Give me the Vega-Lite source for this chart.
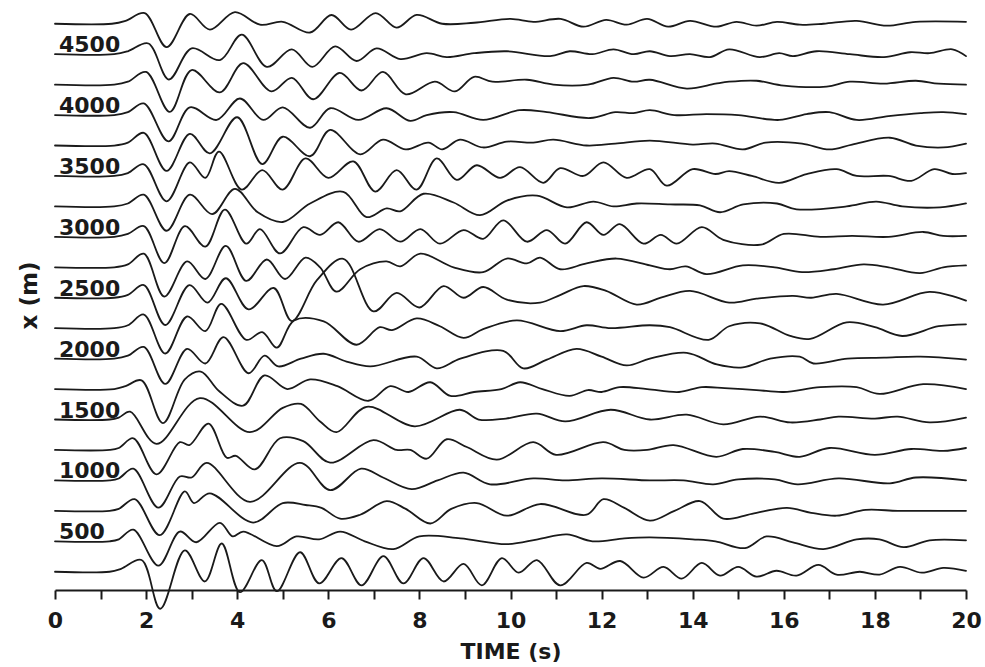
{
  "$schema": "https://vega.github.io/schema/vega-lite/v6.json",
  "width": 911,
  "height": 590,
  "autosize": {"type": "none"},
  "padding": {"left": 55, "top": 0, "right": 19, "bottom": 77},
  "background": "white",
  "config": {
    "view": {"stroke": null},
    "axis": {"grid": false}
  },
  "datasets": {
    "traces": [
      {"d":4750,"t":0,"y":4750},{"d":4750,"t":1.25,"y":4750},{"d":4750,"t":1.55,"y":4774},{"d":4750,"t":1.97,"y":4838},{"d":4750,"t":2.45,"y":4558},{"d":4750,"t":2.96,"y":4830},{"d":4750,"t":3.4,"y":4702},{"d":4750,"t":3.95,"y":4846},{"d":4750,"t":4.5,"y":4742},{"d":4750,"t":5.0,"y":4766},{"d":4750,"t":5.6,"y":4678},{"d":4750,"t":6.07,"y":4822},{"d":4750,"t":6.5,"y":4702},{"d":4750,"t":7.04,"y":4838},{"d":4750,"t":7.5,"y":4718},{"d":4750,"t":7.94,"y":4822},{"d":4750,"t":8.5,"y":4750},{"d":4750,"t":9.2,"y":4758},{"d":4750,"t":10.0,"y":4790},{"d":4750,"t":10.5,"y":4766},{"d":4750,"t":11.1,"y":4790},{"d":4750,"t":11.6,"y":4726},{"d":4750,"t":12.1,"y":4782},{"d":4750,"t":12.55,"y":4742},{"d":4750,"t":13.0,"y":4790},{"d":4750,"t":13.46,"y":4726},{"d":4750,"t":13.94,"y":4774},{"d":4750,"t":14.52,"y":4726},{"d":4750,"t":14.96,"y":4766},{"d":4750,"t":15.4,"y":4734},{"d":4750,"t":15.85,"y":4766},{"d":4750,"t":16.35,"y":4742},{"d":4750,"t":16.87,"y":4750},{"d":4750,"t":17.6,"y":4774},{"d":4750,"t":18.26,"y":4734},{"d":4750,"t":18.9,"y":4766},{"d":4750,"t":20,"y":4766},

      {"d":4500,"t":0,"y":4500},{"d":4500,"t":1.3,"y":4500},{"d":4500,"t":1.6,"y":4524},{"d":4500,"t":2.05,"y":4588},{"d":4500,"t":2.5,"y":4292},{"d":4500,"t":3.0,"y":4548},{"d":4500,"t":3.62,"y":4452},{"d":4500,"t":4.1,"y":4660},{"d":4500,"t":4.65,"y":4396},{"d":4500,"t":5.2,"y":4540},{"d":4500,"t":5.65,"y":4396},{"d":4500,"t":6.15,"y":4564},{"d":4500,"t":6.62,"y":4444},{"d":4500,"t":7.06,"y":4548},{"d":4500,"t":7.58,"y":4460},{"d":4500,"t":8.16,"y":4508},{"d":4500,"t":8.6,"y":4476},{"d":4500,"t":9.2,"y":4508},{"d":4500,"t":9.92,"y":4524},{"d":4500,"t":10.87,"y":4484},{"d":4500,"t":11.3,"y":4524},{"d":4500,"t":11.8,"y":4500},{"d":4500,"t":12.26,"y":4540},{"d":4500,"t":12.7,"y":4500},{"d":4500,"t":13.06,"y":4524},{"d":4500,"t":13.5,"y":4484},{"d":4500,"t":13.94,"y":4500},{"d":4500,"t":14.38,"y":4476},{"d":4500,"t":14.8,"y":4540},{"d":4500,"t":15.47,"y":4476},{"d":4500,"t":15.9,"y":4508},{"d":4500,"t":16.2,"y":4484},{"d":4500,"t":16.72,"y":4524},{"d":4500,"t":17.45,"y":4500},{"d":4500,"t":18.2,"y":4476},{"d":4500,"t":18.77,"y":4516},{"d":4500,"t":19.2,"y":4508},{"d":4500,"t":19.7,"y":4540},{"d":4500,"t":20,"y":4484},

      {"d":4250,"t":0,"y":4250},{"d":4250,"t":1.3,"y":4250},{"d":4250,"t":1.6,"y":4274},{"d":4250,"t":2.0,"y":4354},{"d":4250,"t":2.52,"y":4026},{"d":4250,"t":3.0,"y":4370},{"d":4250,"t":3.62,"y":4186},{"d":4250,"t":4.13,"y":4426},{"d":4250,"t":4.75,"y":4194},{"d":4250,"t":5.2,"y":4306},{"d":4250,"t":5.67,"y":4130},{"d":4250,"t":6.25,"y":4346},{"d":4250,"t":6.73,"y":4202},{"d":4250,"t":7.2,"y":4354},{"d":4250,"t":7.7,"y":4170},{"d":4250,"t":8.34,"y":4274},{"d":4250,"t":8.78,"y":4194},{"d":4250,"t":9.2,"y":4314},{"d":4250,"t":9.6,"y":4274},{"d":4250,"t":10.36,"y":4290},{"d":4250,"t":10.94,"y":4250},{"d":4250,"t":11.7,"y":4250},{"d":4250,"t":12.26,"y":4306},{"d":4250,"t":12.7,"y":4274},{"d":4250,"t":13.06,"y":4290},{"d":4250,"t":13.87,"y":4218},{"d":4250,"t":14.5,"y":4258},{"d":4250,"t":14.8,"y":4274},{"d":4250,"t":15.4,"y":4282},{"d":4250,"t":16.0,"y":4242},{"d":4250,"t":16.94,"y":4234},{"d":4250,"t":17.45,"y":4274},{"d":4250,"t":18.2,"y":4258},{"d":4250,"t":18.9,"y":4282},{"d":4250,"t":19.4,"y":4258},{"d":4250,"t":20,"y":4250},

      {"d":4000,"t":0,"y":4000},{"d":4000,"t":1.3,"y":4000},{"d":4000,"t":1.6,"y":4024},{"d":4000,"t":1.95,"y":4096},{"d":4000,"t":2.49,"y":3784},{"d":4000,"t":2.96,"y":4064},{"d":4000,"t":3.55,"y":3960},{"d":4000,"t":4.06,"y":4136},{"d":4000,"t":4.57,"y":3960},{"d":4000,"t":5.0,"y":4064},{"d":4000,"t":5.6,"y":3896},{"d":4000,"t":6.04,"y":4056},{"d":4000,"t":6.66,"y":3960},{"d":4000,"t":7.28,"y":4056},{"d":4000,"t":7.8,"y":3952},{"d":4000,"t":8.16,"y":4000},{"d":4000,"t":8.75,"y":4024},{"d":4000,"t":9.4,"y":3960},{"d":4000,"t":10.2,"y":4040},{"d":4000,"t":10.8,"y":4024},{"d":4000,"t":11.75,"y":3976},{"d":4000,"t":12.3,"y":4024},{"d":4000,"t":12.7,"y":4016},{"d":4000,"t":13.06,"y":4040},{"d":4000,"t":13.6,"y":4000},{"d":4000,"t":14.3,"y":4008},{"d":4000,"t":15.0,"y":4000},{"d":4000,"t":15.9,"y":3960},{"d":4000,"t":16.5,"y":4008},{"d":4000,"t":17.0,"y":4024},{"d":4000,"t":17.6,"y":3960},{"d":4000,"t":18.3,"y":3992},{"d":4000,"t":19.0,"y":4016},{"d":4000,"t":19.5,"y":4024},{"d":4000,"t":20,"y":4008},

      {"d":3750,"t":0,"y":3750},{"d":3750,"t":1.3,"y":3750},{"d":3750,"t":1.6,"y":3774},{"d":3750,"t":1.95,"y":3854},{"d":3750,"t":2.45,"y":3542},{"d":3750,"t":2.96,"y":3846},{"d":3750,"t":3.4,"y":3686},{"d":3750,"t":4.0,"y":3982},{"d":3750,"t":4.55,"y":3598},{"d":3750,"t":5.0,"y":3822},{"d":3750,"t":5.6,"y":3662},{"d":3750,"t":6.04,"y":3878},{"d":3750,"t":6.7,"y":3678},{"d":3750,"t":7.2,"y":3798},{"d":3750,"t":7.7,"y":3718},{"d":3750,"t":8.2,"y":3774},{"d":3750,"t":8.5,"y":3718},{"d":3750,"t":8.89,"y":3798},{"d":3750,"t":9.4,"y":3734},{"d":3750,"t":9.92,"y":3782},{"d":3750,"t":10.5,"y":3774},{"d":3750,"t":10.94,"y":3798},{"d":3750,"t":11.67,"y":3750},{"d":3750,"t":12.3,"y":3766},{"d":3750,"t":13.06,"y":3790},{"d":3750,"t":14.0,"y":3758},{"d":3750,"t":14.5,"y":3766},{"d":3750,"t":15.1,"y":3718},{"d":3750,"t":15.6,"y":3774},{"d":3750,"t":16.4,"y":3766},{"d":3750,"t":17.0,"y":3718},{"d":3750,"t":17.5,"y":3758},{"d":3750,"t":18.33,"y":3814},{"d":3750,"t":18.9,"y":3750},{"d":3750,"t":19.5,"y":3734},{"d":3750,"t":20,"y":3766},

      {"d":3500,"t":0,"y":3500},{"d":3500,"t":1.3,"y":3500},{"d":3500,"t":1.6,"y":3524},{"d":3500,"t":1.95,"y":3596},{"d":3500,"t":2.45,"y":3292},{"d":3500,"t":2.96,"y":3612},{"d":3500,"t":3.3,"y":3484},{"d":3500,"t":3.6,"y":3700},{"d":3500,"t":4.1,"y":3388},{"d":3500,"t":4.55,"y":3548},{"d":3500,"t":5.0,"y":3388},{"d":3500,"t":5.5,"y":3644},{"d":3500,"t":6.0,"y":3484},{"d":3500,"t":6.55,"y":3620},{"d":3500,"t":7.03,"y":3372},{"d":3500,"t":7.5,"y":3548},{"d":3500,"t":7.94,"y":3388},{"d":3500,"t":8.38,"y":3644},{"d":3500,"t":8.82,"y":3468},{"d":3500,"t":9.26,"y":3588},{"d":3500,"t":9.77,"y":3484},{"d":3500,"t":10.21,"y":3572},{"d":3500,"t":10.72,"y":3444},{"d":3500,"t":11.09,"y":3564},{"d":3500,"t":11.6,"y":3500},{"d":3500,"t":12.04,"y":3612},{"d":3500,"t":12.55,"y":3484},{"d":3500,"t":13.06,"y":3556},{"d":3500,"t":13.43,"y":3420},{"d":3500,"t":14.0,"y":3556},{"d":3500,"t":14.5,"y":3516},{"d":3500,"t":14.8,"y":3540},{"d":3500,"t":15.3,"y":3500},{"d":3500,"t":15.9,"y":3444},{"d":3500,"t":16.5,"y":3516},{"d":3500,"t":17.16,"y":3556},{"d":3500,"t":17.6,"y":3500},{"d":3500,"t":18.3,"y":3500},{"d":3500,"t":18.8,"y":3460},{"d":3500,"t":19.3,"y":3556},{"d":3500,"t":19.7,"y":3516},{"d":3500,"t":20,"y":3524},

      {"d":3250,"t":0,"y":3250},{"d":3250,"t":1.3,"y":3250},{"d":3250,"t":1.6,"y":3274},{"d":3250,"t":1.95,"y":3346},{"d":3250,"t":2.45,"y":3050},{"d":3250,"t":2.96,"y":3346},{"d":3250,"t":3.45,"y":3186},{"d":3250,"t":3.95,"y":3394},{"d":3250,"t":4.45,"y":3202},{"d":3250,"t":5.0,"y":3122},{"d":3250,"t":5.6,"y":3274},{"d":3250,"t":6.33,"y":3370},{"d":3250,"t":6.84,"y":3162},{"d":3250,"t":7.28,"y":3234},{"d":3250,"t":7.58,"y":3210},{"d":3250,"t":8.09,"y":3354},{"d":3250,"t":8.75,"y":3282},{"d":3250,"t":9.33,"y":3178},{"d":3250,"t":9.92,"y":3298},{"d":3250,"t":10.58,"y":3338},{"d":3250,"t":11.24,"y":3242},{"d":3250,"t":11.82,"y":3290},{"d":3250,"t":12.26,"y":3250},{"d":3250,"t":12.77,"y":3274},{"d":3250,"t":13.5,"y":3266},{"d":3250,"t":14.16,"y":3258},{"d":3250,"t":14.6,"y":3202},{"d":3250,"t":15.11,"y":3266},{"d":3250,"t":15.85,"y":3274},{"d":3250,"t":16.28,"y":3226},{"d":3250,"t":17.38,"y":3250},{"d":3250,"t":18.03,"y":3290},{"d":3250,"t":18.6,"y":3250},{"d":3250,"t":19.43,"y":3242},{"d":3250,"t":20,"y":3274},

      {"d":3000,"t":0,"y":3000},{"d":3000,"t":1.3,"y":3000},{"d":3000,"t":1.6,"y":3024},{"d":3000,"t":1.95,"y":3088},{"d":3000,"t":2.4,"y":2784},{"d":3000,"t":2.85,"y":3088},{"d":3000,"t":3.3,"y":2920},{"d":3000,"t":3.73,"y":3224},{"d":3000,"t":4.2,"y":2944},{"d":3000,"t":4.5,"y":3064},{"d":3000,"t":4.94,"y":2864},{"d":3000,"t":5.45,"y":3080},{"d":3000,"t":5.82,"y":3016},{"d":3000,"t":6.22,"y":3120},{"d":3000,"t":6.66,"y":2960},{"d":3000,"t":7.13,"y":3064},{"d":3000,"t":7.58,"y":2960},{"d":3000,"t":8.02,"y":3064},{"d":3000,"t":8.45,"y":2944},{"d":3000,"t":8.97,"y":3056},{"d":3000,"t":9.4,"y":2984},{"d":3000,"t":9.84,"y":3136},{"d":3000,"t":10.36,"y":2960},{"d":3000,"t":10.8,"y":3056},{"d":3000,"t":11.2,"y":2944},{"d":3000,"t":11.67,"y":3120},{"d":3000,"t":12.04,"y":3016},{"d":3000,"t":12.4,"y":3104},{"d":3000,"t":12.92,"y":2944},{"d":3000,"t":13.3,"y":3016},{"d":3000,"t":13.65,"y":2944},{"d":3000,"t":14.2,"y":3080},{"d":3000,"t":14.67,"y":2976},{"d":3000,"t":15.5,"y":2936},{"d":3000,"t":16.0,"y":3024},{"d":3000,"t":16.8,"y":3000},{"d":3000,"t":17.5,"y":3008},{"d":3000,"t":18.3,"y":3000},{"d":3000,"t":19.06,"y":3040},{"d":3000,"t":19.5,"y":3008},{"d":3000,"t":20,"y":3008},

      {"d":2750,"t":0,"y":2750},{"d":2750,"t":1.3,"y":2750},{"d":2750,"t":1.6,"y":2774},{"d":2750,"t":1.95,"y":2862},{"d":2750,"t":2.4,"y":2510},{"d":2750,"t":2.9,"y":2798},{"d":2750,"t":3.3,"y":2654},{"d":2750,"t":3.75,"y":2926},{"d":2750,"t":4.2,"y":2638},{"d":2750,"t":4.65,"y":2814},{"d":2750,"t":5.05,"y":2654},{"d":2750,"t":5.5,"y":2830},{"d":2750,"t":5.82,"y":2750},{"d":2750,"t":6.18,"y":2550},{"d":2750,"t":6.7,"y":2734},{"d":2750,"t":7.28,"y":2798},{"d":2750,"t":7.58,"y":2758},{"d":2750,"t":8.02,"y":2862},{"d":2750,"t":8.75,"y":2750},{"d":2750,"t":9.4,"y":2710},{"d":2750,"t":9.92,"y":2822},{"d":2750,"t":10.36,"y":2782},{"d":2750,"t":10.65,"y":2830},{"d":2750,"t":11.09,"y":2734},{"d":2750,"t":11.67,"y":2782},{"d":2750,"t":12.33,"y":2822},{"d":2750,"t":13.06,"y":2766},{"d":2750,"t":13.5,"y":2734},{"d":2750,"t":13.85,"y":2758},{"d":2750,"t":14.3,"y":2694},{"d":2750,"t":15.1,"y":2766},{"d":2750,"t":15.8,"y":2750},{"d":2750,"t":16.4,"y":2710},{"d":2750,"t":17.1,"y":2734},{"d":2750,"t":17.75,"y":2774},{"d":2750,"t":18.3,"y":2750},{"d":2750,"t":18.99,"y":2702},{"d":2750,"t":19.5,"y":2750},{"d":2750,"t":20,"y":2766},

      {"d":2500,"t":0,"y":2500},{"d":2500,"t":1.3,"y":2500},{"d":2500,"t":1.6,"y":2524},{"d":2500,"t":1.95,"y":2604},{"d":2500,"t":2.42,"y":2276},{"d":2500,"t":2.95,"y":2604},{"d":2500,"t":3.35,"y":2460},{"d":2500,"t":3.75,"y":2660},{"d":2500,"t":4.25,"y":2404},{"d":2500,"t":4.8,"y":2580},{"d":2500,"t":5.2,"y":2308},{"d":2500,"t":5.75,"y":2644},{"d":2500,"t":6.33,"y":2820},{"d":2500,"t":6.99,"y":2388},{"d":2500,"t":7.5,"y":2540},{"d":2500,"t":8.0,"y":2420},{"d":2500,"t":8.53,"y":2596},{"d":2500,"t":8.97,"y":2500},{"d":2500,"t":9.4,"y":2588},{"d":2500,"t":9.92,"y":2484},{"d":2500,"t":10.65,"y":2460},{"d":2500,"t":11.1,"y":2524},{"d":2500,"t":11.6,"y":2596},{"d":2500,"t":12.1,"y":2556},{"d":2500,"t":12.77,"y":2444},{"d":2500,"t":13.3,"y":2500},{"d":2500,"t":13.94,"y":2556},{"d":2500,"t":14.8,"y":2460},{"d":2500,"t":15.4,"y":2492},{"d":2500,"t":16.2,"y":2516},{"d":2500,"t":16.6,"y":2500},{"d":2500,"t":17.16,"y":2532},{"d":2500,"t":18.18,"y":2444},{"d":2500,"t":19.2,"y":2548},{"d":2500,"t":20,"y":2476},

      {"d":2250,"t":0,"y":2250},{"d":2250,"t":1.3,"y":2250},{"d":2250,"t":1.6,"y":2274},{"d":2250,"t":1.95,"y":2362},{"d":2250,"t":2.42,"y":2042},{"d":2250,"t":2.9,"y":2346},{"d":2250,"t":3.3,"y":2226},{"d":2250,"t":3.65,"y":2450},{"d":2250,"t":4.2,"y":2154},{"d":2250,"t":4.55,"y":2218},{"d":2250,"t":4.87,"y":2090},{"d":2250,"t":5.25,"y":2314},{"d":2250,"t":5.9,"y":2306},{"d":2250,"t":6.62,"y":2114},{"d":2250,"t":7.13,"y":2258},{"d":2250,"t":7.4,"y":2234},{"d":2250,"t":7.94,"y":2330},{"d":2250,"t":8.45,"y":2266},{"d":2250,"t":8.97,"y":2170},{"d":2250,"t":9.4,"y":2242},{"d":2250,"t":10.14,"y":2314},{"d":2250,"t":11.09,"y":2226},{"d":2250,"t":11.67,"y":2274},{"d":2250,"t":12.2,"y":2250},{"d":2250,"t":13.06,"y":2274},{"d":2250,"t":13.5,"y":2258},{"d":2250,"t":14.35,"y":2154},{"d":2250,"t":14.8,"y":2266},{"d":2250,"t":15.48,"y":2290},{"d":2250,"t":16.14,"y":2186},{"d":2250,"t":16.58,"y":2162},{"d":2250,"t":17.38,"y":2298},{"d":2250,"t":18.0,"y":2258},{"d":2250,"t":18.6,"y":2186},{"d":2250,"t":19.4,"y":2266},{"d":2250,"t":20,"y":2282},

      {"d":2000,"t":0,"y":2000},{"d":2000,"t":1.3,"y":2000},{"d":2000,"t":1.6,"y":2024},{"d":2000,"t":1.95,"y":2096},{"d":2000,"t":2.42,"y":1792},{"d":2000,"t":2.9,"y":2080},{"d":2000,"t":3.3,"y":1960},{"d":2000,"t":3.7,"y":2176},{"d":2000,"t":4.25,"y":1880},{"d":2000,"t":4.6,"y":2024},{"d":2000,"t":4.9,"y":1936},{"d":2000,"t":5.4,"y":2000},{"d":2000,"t":5.9,"y":2040},{"d":2000,"t":6.4,"y":1976},{"d":2000,"t":6.92,"y":1936},{"d":2000,"t":7.94,"y":2016},{"d":2000,"t":8.38,"y":1920},{"d":2000,"t":8.9,"y":2000},{"d":2000,"t":9.84,"y":2064},{"d":2000,"t":10.28,"y":1920},{"d":2000,"t":10.8,"y":1992},{"d":2000,"t":11.45,"y":2080},{"d":2000,"t":12.0,"y":2016},{"d":2000,"t":12.55,"y":1944},{"d":2000,"t":13.06,"y":2000},{"d":2000,"t":13.87,"y":2048},{"d":2000,"t":14.53,"y":1952},{"d":2000,"t":15.1,"y":1928},{"d":2000,"t":15.7,"y":2000},{"d":2000,"t":16.35,"y":2016},{"d":2000,"t":16.65,"y":1960},{"d":2000,"t":17.4,"y":2000},{"d":2000,"t":18.2,"y":2008},{"d":2000,"t":19.0,"y":2016},{"d":2000,"t":20,"y":1992},

      {"d":1750,"t":0,"y":1750},{"d":1750,"t":1.3,"y":1750},{"d":1750,"t":1.55,"y":1774},{"d":1750,"t":1.9,"y":1822},{"d":1750,"t":2.37,"y":1470},{"d":1750,"t":2.85,"y":1830},{"d":1750,"t":3.2,"y":1894},{"d":1750,"t":3.6,"y":1734},{"d":1750,"t":4.13,"y":1614},{"d":1750,"t":4.6,"y":1862},{"d":1750,"t":5.1,"y":1750},{"d":1750,"t":5.6,"y":1830},{"d":1750,"t":6.2,"y":1774},{"d":1750,"t":6.88,"y":1654},{"d":1750,"t":7.36,"y":1774},{"d":1750,"t":7.76,"y":1726},{"d":1750,"t":8.24,"y":1806},{"d":1750,"t":8.68,"y":1694},{"d":1750,"t":9.2,"y":1726},{"d":1750,"t":9.8,"y":1750},{"d":1750,"t":10.21,"y":1806},{"d":1750,"t":10.7,"y":1750},{"d":1750,"t":11.3,"y":1694},{"d":1750,"t":11.7,"y":1742},{"d":1750,"t":12.0,"y":1726},{"d":1750,"t":12.4,"y":1766},{"d":1750,"t":13.0,"y":1750},{"d":1750,"t":13.7,"y":1726},{"d":1750,"t":14.2,"y":1766},{"d":1750,"t":14.7,"y":1758},{"d":1750,"t":15.4,"y":1742},{"d":1750,"t":16.0,"y":1726},{"d":1750,"t":16.8,"y":1766},{"d":1750,"t":17.6,"y":1766},{"d":1750,"t":18.1,"y":1710},{"d":1750,"t":19.06,"y":1790},{"d":1750,"t":20,"y":1750},

      {"d":1500,"t":0,"y":1500},{"d":1500,"t":1.2,"y":1500},{"d":1500,"t":1.4,"y":1516},{"d":1500,"t":1.65,"y":1564},{"d":1500,"t":2.23,"y":1300},{"d":1500,"t":3.18,"y":1676},{"d":1500,"t":4.28,"y":1396},{"d":1500,"t":5.0,"y":1596},{"d":1500,"t":5.4,"y":1628},{"d":1500,"t":5.82,"y":1484},{"d":1500,"t":6.18,"y":1396},{"d":1500,"t":6.84,"y":1604},{"d":1500,"t":7.9,"y":1444},{"d":1500,"t":8.89,"y":1580},{"d":1500,"t":9.3,"y":1500},{"d":1500,"t":9.9,"y":1508},{"d":1500,"t":10.58,"y":1548},{"d":1500,"t":11.2,"y":1484},{"d":1500,"t":12.2,"y":1580},{"d":1500,"t":13.06,"y":1500},{"d":1500,"t":13.87,"y":1540},{"d":1500,"t":14.67,"y":1460},{"d":1500,"t":15.48,"y":1524},{"d":1500,"t":16.14,"y":1476},{"d":1500,"t":16.8,"y":1500},{"d":1500,"t":17.2,"y":1524},{"d":1500,"t":18.0,"y":1508},{"d":1500,"t":18.5,"y":1524},{"d":1500,"t":19.2,"y":1476},{"d":1500,"t":20,"y":1516},

      {"d":1250,"t":0,"y":1250},{"d":1250,"t":1.2,"y":1250},{"d":1250,"t":1.4,"y":1266},{"d":1250,"t":1.72,"y":1346},{"d":1250,"t":2.23,"y":1050},{"d":1250,"t":2.74,"y":1314},{"d":1250,"t":2.95,"y":1290},{"d":1250,"t":3.37,"y":1466},{"d":1250,"t":3.77,"y":1186},{"d":1250,"t":3.97,"y":1202},{"d":1250,"t":4.39,"y":1090},{"d":1250,"t":4.94,"y":1346},{"d":1250,"t":5.45,"y":1322},{"d":1250,"t":6.04,"y":1146},{"d":1250,"t":6.99,"y":1330},{"d":1250,"t":7.5,"y":1250},{"d":1250,"t":7.8,"y":1250},{"d":1250,"t":8.16,"y":1178},{"d":1250,"t":8.6,"y":1338},{"d":1250,"t":9.04,"y":1274},{"d":1250,"t":9.7,"y":1170},{"d":1250,"t":10.5,"y":1314},{"d":1250,"t":11.0,"y":1210},{"d":1250,"t":12.04,"y":1314},{"d":1250,"t":12.5,"y":1250},{"d":1250,"t":13.0,"y":1250},{"d":1250,"t":13.58,"y":1290},{"d":1250,"t":14.52,"y":1194},{"d":1250,"t":15.1,"y":1258},{"d":1250,"t":15.8,"y":1234},{"d":1250,"t":16.35,"y":1194},{"d":1250,"t":17.0,"y":1266},{"d":1250,"t":18.0,"y":1210},{"d":1250,"t":18.8,"y":1258},{"d":1250,"t":19.5,"y":1242},{"d":1250,"t":20,"y":1266},

      {"d":1000,"t":0,"y":1000},{"d":1000,"t":1.2,"y":1000},{"d":1000,"t":1.4,"y":1016},{"d":1000,"t":1.72,"y":1096},{"d":1000,"t":2.27,"y":776},{"d":1000,"t":2.74,"y":1032},{"d":1000,"t":3.0,"y":1024},{"d":1000,"t":3.33,"y":1144},{"d":1000,"t":4.28,"y":824},{"d":1000,"t":5.38,"y":1144},{"d":1000,"t":6.04,"y":920},{"d":1000,"t":6.72,"y":1096},{"d":1000,"t":7.2,"y":1024},{"d":1000,"t":7.83,"y":928},{"d":1000,"t":8.4,"y":1000},{"d":1000,"t":8.97,"y":1064},{"d":1000,"t":9.55,"y":968},{"d":1000,"t":10.5,"y":1016},{"d":1000,"t":11.2,"y":1000},{"d":1000,"t":12.0,"y":1016},{"d":1000,"t":13.06,"y":1000},{"d":1000,"t":13.8,"y":1000},{"d":1000,"t":14.45,"y":968},{"d":1000,"t":15.0,"y":1008},{"d":1000,"t":15.8,"y":1008},{"d":1000,"t":16.3,"y":968},{"d":1000,"t":17.2,"y":1016},{"d":1000,"t":18.33,"y":976},{"d":1000,"t":18.9,"y":1024},{"d":1000,"t":20,"y":1000},

      {"d":750,"t":0,"y":750},{"d":750,"t":1.2,"y":750},{"d":750,"t":1.4,"y":766},{"d":750,"t":1.75,"y":846},{"d":750,"t":2.3,"y":550},{"d":750,"t":2.85,"y":910},{"d":750,"t":3.05,"y":814},{"d":750,"t":3.4,"y":894},{"d":750,"t":4.35,"y":654},{"d":750,"t":5.0,"y":814},{"d":750,"t":5.5,"y":798},{"d":750,"t":5.85,"y":774},{"d":750,"t":6.26,"y":686},{"d":750,"t":6.7,"y":718},{"d":750,"t":7.28,"y":830},{"d":750,"t":7.7,"y":766},{"d":750,"t":8.24,"y":646},{"d":750,"t":8.7,"y":766},{"d":750,"t":9.26,"y":814},{"d":750,"t":9.92,"y":710},{"d":750,"t":10.65,"y":806},{"d":750,"t":11.67,"y":718},{"d":750,"t":12.04,"y":846},{"d":750,"t":12.5,"y":774},{"d":750,"t":13.06,"y":670},{"d":750,"t":13.6,"y":750},{"d":750,"t":14.16,"y":830},{"d":750,"t":14.67,"y":686},{"d":750,"t":15.3,"y":726},{"d":750,"t":16.07,"y":774},{"d":750,"t":16.6,"y":734},{"d":750,"t":17.16,"y":710},{"d":750,"t":17.8,"y":758},{"d":750,"t":18.5,"y":750},{"d":750,"t":19.3,"y":750},{"d":750,"t":20,"y":750},

      {"d":500,"t":0,"y":500},{"d":500,"t":1.2,"y":500},{"d":500,"t":1.4,"y":516},{"d":500,"t":1.72,"y":596},{"d":500,"t":2.27,"y":300},{"d":500,"t":2.74,"y":580},{"d":500,"t":3.1,"y":492},{"d":500,"t":3.62,"y":652},{"d":500,"t":3.9,"y":540},{"d":500,"t":4.13,"y":580},{"d":500,"t":4.87,"y":460},{"d":500,"t":5.3,"y":540},{"d":500,"t":5.8,"y":516},{"d":500,"t":6.26,"y":580},{"d":500,"t":6.8,"y":500},{"d":500,"t":7.43,"y":436},{"d":500,"t":8.0,"y":540},{"d":500,"t":8.9,"y":524},{"d":500,"t":9.92,"y":476},{"d":500,"t":10.6,"y":516},{"d":500,"t":11.24,"y":556},{"d":500,"t":11.8,"y":500},{"d":500,"t":12.5,"y":524},{"d":500,"t":13.06,"y":532},{"d":500,"t":14.0,"y":516},{"d":500,"t":14.5,"y":500},{"d":500,"t":15.15,"y":444},{"d":500,"t":15.62,"y":540},{"d":500,"t":16.2,"y":492},{"d":500,"t":16.87,"y":436},{"d":500,"t":17.6,"y":516},{"d":500,"t":18.1,"y":516},{"d":500,"t":18.63,"y":452},{"d":500,"t":19.2,"y":508},{"d":500,"t":20,"y":508},

      {"d":250,"t":0,"y":250},{"d":250,"t":1.2,"y":250},{"d":250,"t":1.45,"y":274},{"d":250,"t":1.9,"y":346},{"d":250,"t":2.31,"y":-54},{"d":250,"t":2.85,"y":426},{"d":250,"t":3.29,"y":170},{"d":250,"t":3.66,"y":482},{"d":250,"t":4.06,"y":82},{"d":250,"t":4.54,"y":346},{"d":250,"t":4.87,"y":90},{"d":250,"t":5.38,"y":410},{"d":250,"t":5.8,"y":154},{"d":250,"t":6.29,"y":362},{"d":250,"t":6.73,"y":138},{"d":250,"t":7.21,"y":378},{"d":250,"t":7.65,"y":154},{"d":250,"t":8.09,"y":362},{"d":250,"t":8.53,"y":170},{"d":250,"t":8.97,"y":314},{"d":250,"t":9.37,"y":138},{"d":250,"t":9.81,"y":362},{"d":250,"t":10.18,"y":242},{"d":250,"t":10.58,"y":346},{"d":250,"t":11.09,"y":138},{"d":250,"t":11.67,"y":322},{"d":250,"t":11.97,"y":274},{"d":250,"t":12.41,"y":338},{"d":250,"t":12.92,"y":202},{"d":250,"t":13.36,"y":290},{"d":250,"t":13.76,"y":194},{"d":250,"t":14.2,"y":322},{"d":250,"t":14.6,"y":218},{"d":250,"t":15.0,"y":290},{"d":250,"t":15.4,"y":210},{"d":250,"t":15.84,"y":258},{"d":250,"t":16.28,"y":218},{"d":250,"t":16.76,"y":306},{"d":250,"t":17.16,"y":226},{"d":250,"t":17.67,"y":250},{"d":250,"t":18.1,"y":226},{"d":250,"t":18.55,"y":290},{"d":250,"t":19.03,"y":242},{"d":250,"t":19.5,"y":282},{"d":250,"t":20,"y":258}
    ],
    "labels": [
      {"label":"4500","t":0,"pos":4500},{"label":"4000","t":0,"pos":4000},{"label":"3500","t":0,"pos":3500},
      {"label":"3000","t":0,"pos":3000},{"label":"2500","t":0,"pos":2500},{"label":"2000","t":0,"pos":2000},
      {"label":"1500","t":0,"pos":1500},{"label":"1000","t":0,"pos":1000},{"label":"500","t":0,"pos":500}
    ]
  },
  "layer": [
    {
      "data": {"name": "traces"},
      "mark": {"type": "line", "interpolate": "catmull-rom", "color": "#1a1a1a", "strokeWidth": 1.8, "strokeCap": "round", "strokeJoin": "round"},
      "encoding": {
        "x": {
          "field": "t", "type": "quantitative",
          "scale": {"domain": [0, 20], "nice": false},
          "axis": {
            "title": "TIME (s)",
            "values": [0,1,2,3,4,5,6,7,8,9,10,11,12,13,14,15,16,17,18,19,20],
            "labelExpr": "datum.value % 2 == 0 ? datum.label : ''",
            "domainColor": "#1a1a1a", "domainWidth": 2,
            "tickColor": "#1a1a1a", "tickWidth": 2, "tickSize": 9,
            "labelFont": "DejaVu Sans", "labelFontWeight": "bold", "labelFontSize": 22, "labelColor": "#1a1a1a",
            "labelPadding": 11, "labelFlush": false, "labelOverlap": false,
            "titleFont": "DejaVu Sans", "titleFontWeight": "bold", "titleFontSize": 22, "titleColor": "#1a1a1a",
            "titlePadding": 10
          }
        },
        "y": {
          "field": "y", "type": "quantitative",
          "scale": {"domain": [100, 4945], "nice": false, "zero": false},
          "axis": {
            "title": "x (m)",
            "domain": false, "ticks": false, "labels": false,
            "titleFont": "DejaVu Sans", "titleFontWeight": "bold", "titleFontSize": 23, "titleColor": "#1a1a1a",
            "titlePadding": 14
          }
        },
        "detail": {"field": "d", "type": "nominal"}
      }
    },
    {
      "data": {"name": "labels"},
      "mark": {"type": "text", "align": "left", "baseline": "alphabetic", "dx": 4, "dy": -2, "font": "DejaVu Sans", "fontWeight": "bold", "fontSize": 22, "color": "#1a1a1a"},
      "encoding": {
        "x": {"field": "t", "type": "quantitative"},
        "y": {"field": "pos", "type": "quantitative"},
        "text": {"field": "label"}
      }
    }
  ]
}
